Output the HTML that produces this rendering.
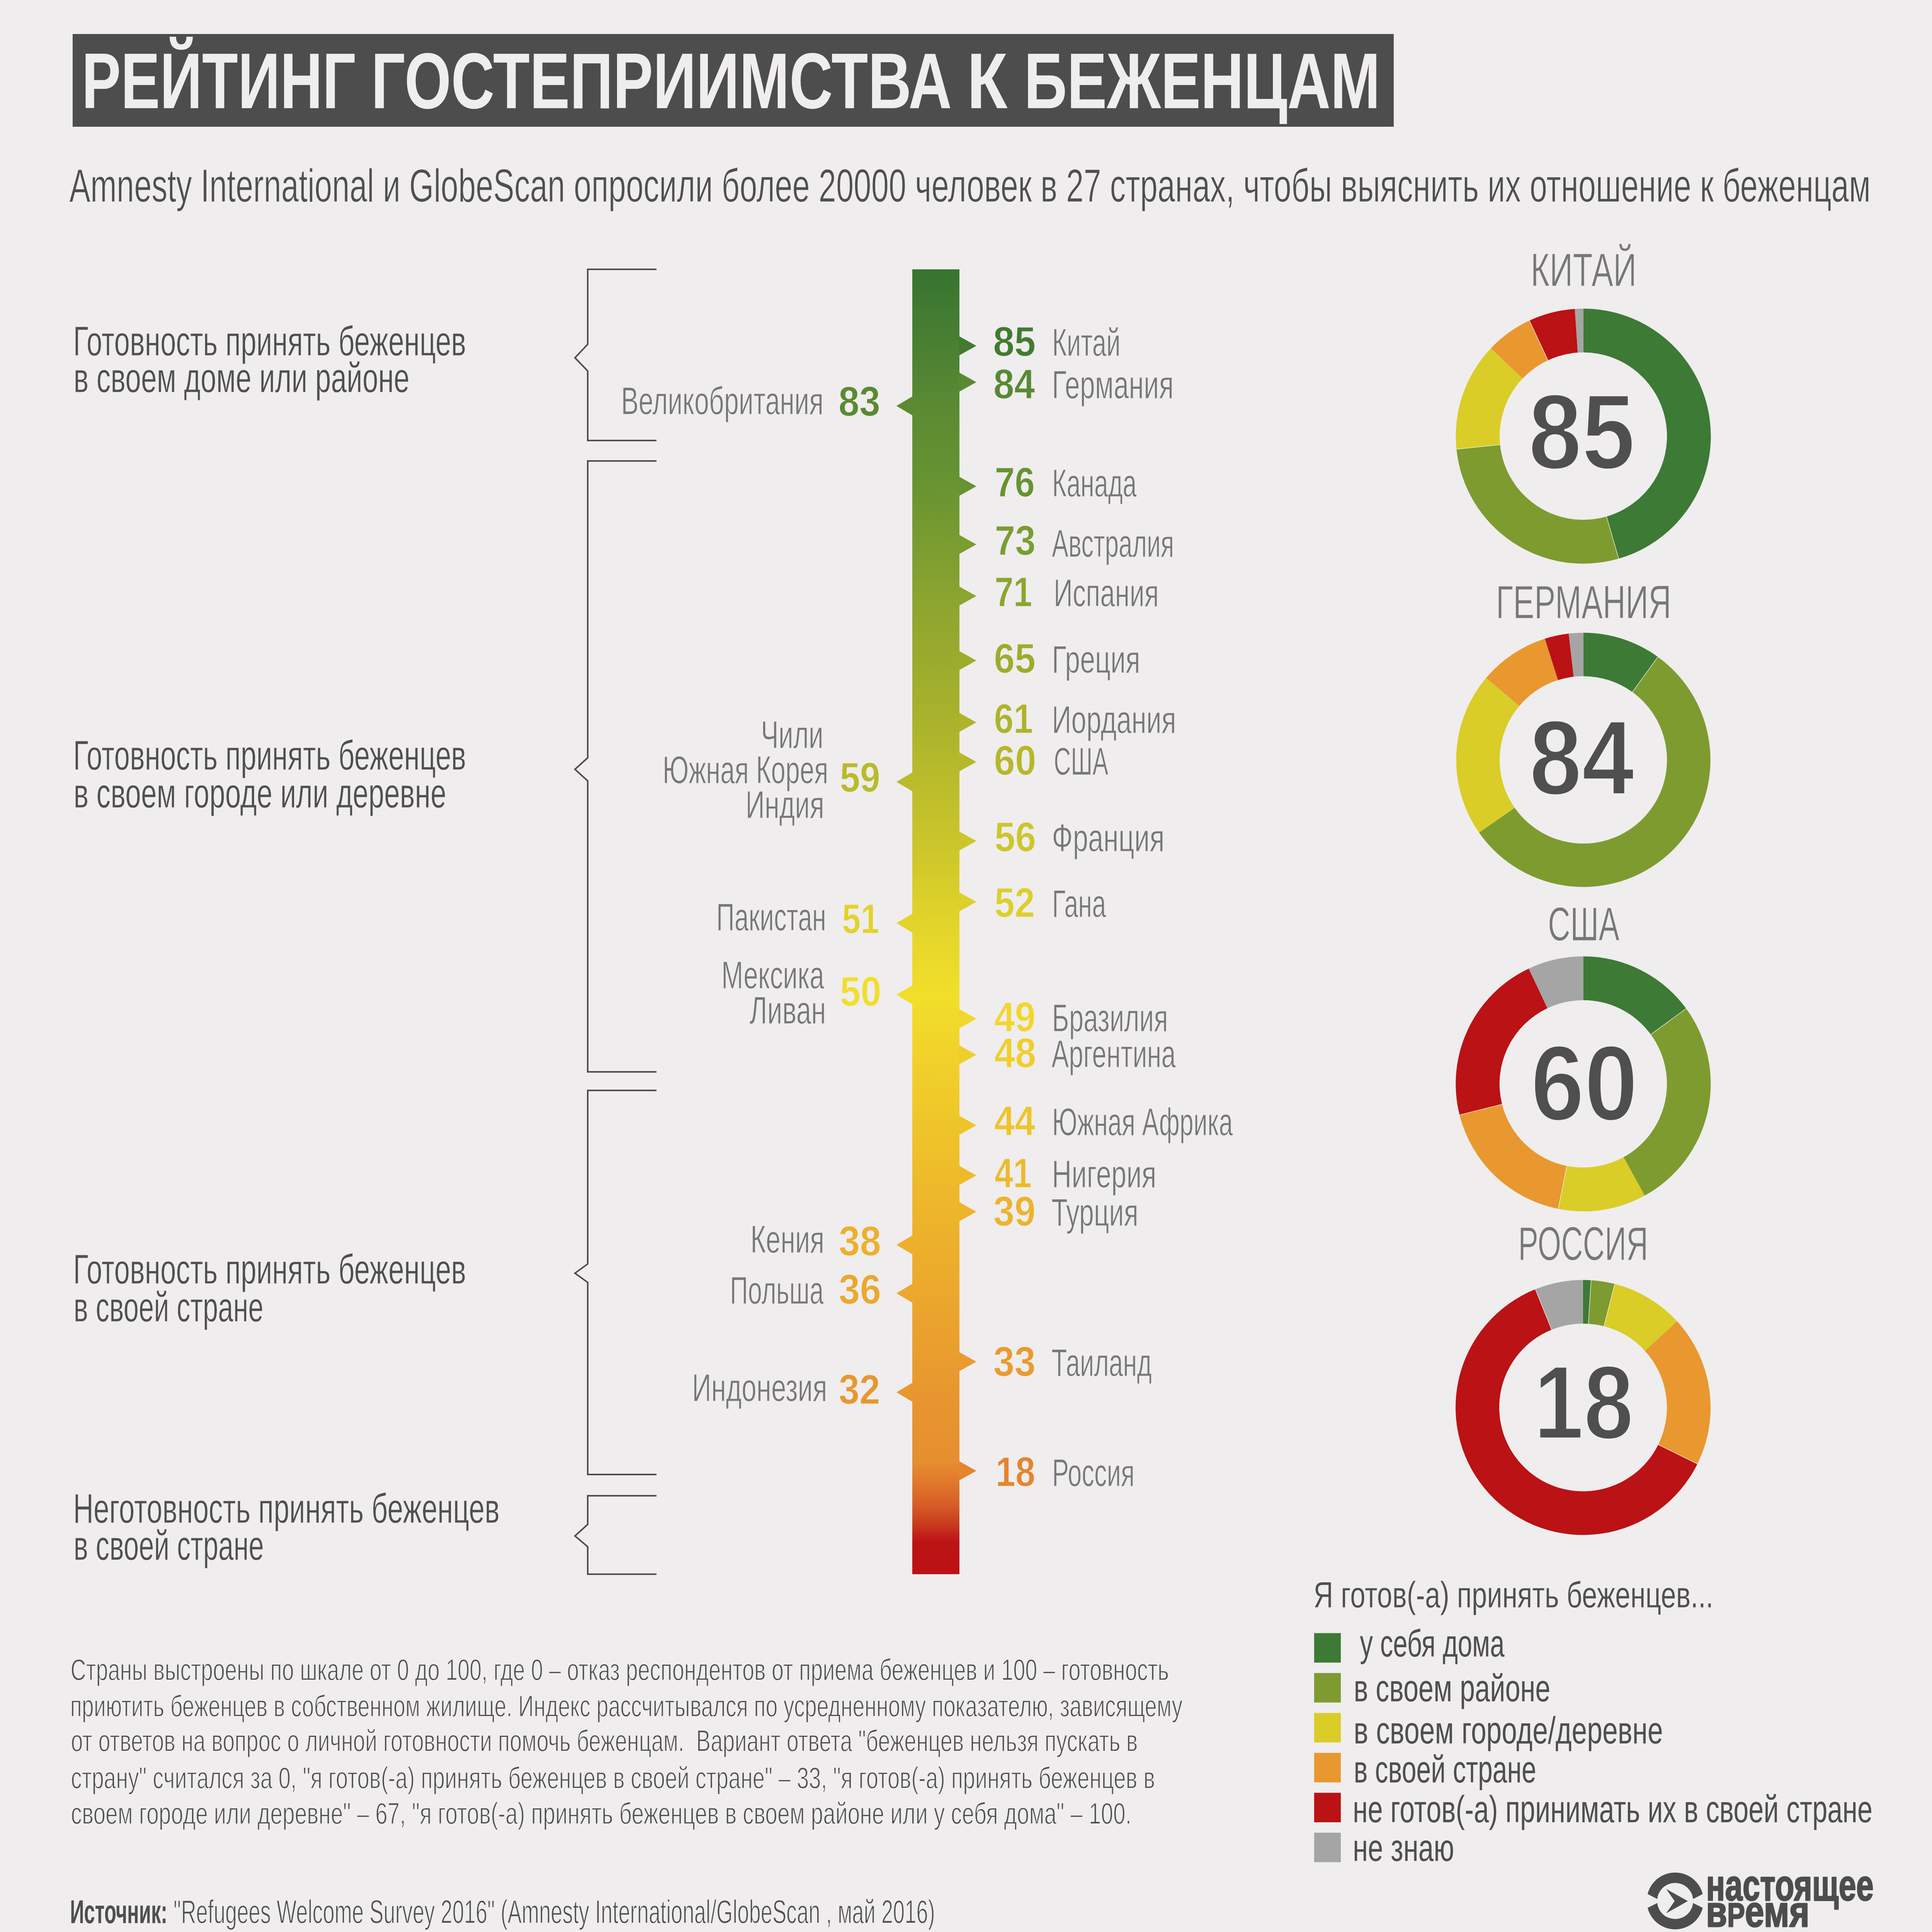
<!DOCTYPE html><html><head><meta charset="utf-8"><style>html,body{margin:0;padding:0;background:#EFEDEE;overflow:hidden;width:5018px;height:5063px;}svg{display:block}text{font-family:"Liberation Sans",sans-serif;white-space:pre}</style></head><body>
<svg width="5018" height="5063" viewBox="0 0 5018 5063">
<rect width="5018" height="5063" fill="#EFEDEE"/>
<rect x="188" y="88" width="3419" height="240" fill="#4D4D4D"/>
<path d="M1699 697 H1521 V891 L1488 926 L1521 960 V1140 H1699" fill="none" stroke="#4D4D4D" stroke-width="4" stroke-linejoin="miter"/>
<path d="M1699 1193 H1521 V1961 L1488 1991 L1521 2021 V2774 H1699" fill="none" stroke="#4D4D4D" stroke-width="4" stroke-linejoin="miter"/>
<path d="M1699 2822 H1521 V3271 L1488 3295 L1521 3319 V3816 H1699" fill="none" stroke="#4D4D4D" stroke-width="4" stroke-linejoin="miter"/>
<path d="M1699 3871 H1521 V3945 L1488 3975 L1521 4003 V4074 H1699" fill="none" stroke="#4D4D4D" stroke-width="4" stroke-linejoin="miter"/>
<defs><linearGradient id="bar" gradientUnits="userSpaceOnUse" x1="0" y1="697" x2="0" y2="4074">
<stop offset="0.0000" stop-color="#377431"/>
<stop offset="0.1045" stop-color="#5A8A33"/>
<stop offset="0.1664" stop-color="#689431"/>
<stop offset="0.2505" stop-color="#8AA42F"/>
<stop offset="0.3471" stop-color="#AAB32C"/>
<stop offset="0.4383" stop-color="#CAC52A"/>
<stop offset="0.4847" stop-color="#DCD02A"/>
<stop offset="0.5561" stop-color="#F2DF2A"/>
<stop offset="0.6020" stop-color="#F1D22A"/>
<stop offset="0.6559" stop-color="#EFC52A"/>
<stop offset="0.7222" stop-color="#EDB52B"/>
<stop offset="0.7847" stop-color="#EBA82D"/>
<stop offset="0.8605" stop-color="#E8972F"/>
<stop offset="0.9144" stop-color="#E68E30"/>
<stop offset="0.9337" stop-color="#DF722A"/>
<stop offset="0.9485" stop-color="#D55A26"/>
<stop offset="0.9633" stop-color="#C8361D"/>
<stop offset="0.9751" stop-color="#BC1315"/>
<stop offset="1.0000" stop-color="#BC1215"/>
</linearGradient></defs>
<rect x="2361" y="697" width="122" height="3377" fill="url(#bar)"/>
<path d="M2482 870.0 L2526.8 895.0 L2482 920.0 Z" fill="#437B31"/>
<path d="M2482 964.0 L2526.8 989.0 L2482 1014.0 Z" fill="#598A32"/>
<path d="M2482 1233.6 L2526.8 1258.6 L2482 1283.6 Z" fill="#679331"/>
<path d="M2482 1384.0 L2526.8 1409.0 L2482 1434.0 Z" fill="#7A9D30"/>
<path d="M2482 1517.6 L2526.8 1542.6 L2482 1567.6 Z" fill="#8CA52E"/>
<path d="M2482 1684.4 L2526.8 1709.4 L2482 1734.4 Z" fill="#9CAD2C"/>
<path d="M2482 1844.4 L2526.8 1869.4 L2482 1894.4 Z" fill="#AEB42B"/>
<path d="M2482 1946.8 L2526.8 1971.8 L2482 1996.8 Z" fill="#B5B82A"/>
<path d="M2482 2151.6 L2526.8 2176.6 L2482 2201.6 Z" fill="#CDC62A"/>
<path d="M2482 2309.0 L2526.8 2334.0 L2482 2359.0 Z" fill="#DDD02A"/>
<path d="M2482 2611.6 L2526.8 2636.6 L2482 2661.6 Z" fill="#F2D62B"/>
<path d="M2482 2704.7 L2526.8 2729.7 L2482 2754.7 Z" fill="#F0CE2A"/>
<path d="M2482 2887.3 L2526.8 2912.3 L2482 2937.3 Z" fill="#EFC42A"/>
<path d="M2482 3017.0 L2526.8 3042.0 L2482 3067.0 Z" fill="#EEBA2B"/>
<path d="M2482 3111.0 L2526.8 3136.0 L2482 3161.0 Z" fill="#EDB42B"/>
<path d="M2482 3499.0 L2526.8 3524.0 L2482 3549.0 Z" fill="#E99B2F"/>
<path d="M2482 3781.5 L2526.8 3806.5 L2482 3831.5 Z" fill="#E5852D"/>
<path d="M2362 1025.6 L2320 1050.6 L2362 1075.6 Z" fill="#5B8A32"/>
<path d="M2362 1998.4 L2320 2023.4 L2362 2048.4 Z" fill="#B9BB2A"/>
<path d="M2362 2364.0 L2320 2389.0 L2362 2414.0 Z" fill="#E3D32A"/>
<path d="M2362 2549.6 L2320 2574.6 L2362 2599.6 Z" fill="#F2DE2A"/>
<path d="M2362 3196.8 L2320 3221.8 L2362 3246.8 Z" fill="#EDAF2C"/>
<path d="M2362 3322.0 L2320 3347.0 L2362 3372.0 Z" fill="#EBA82D"/>
<path d="M2362 3578.2 L2320 3603.2 L2362 3628.2 Z" fill="#E8972F"/>
<path d="M4097.60 798.70 A330 330 0 0 1 4189.11 1445.76 L4157.67 1336.80 A216.6 216.6 0 0 0 4097.60 912.10 Z" fill="#3D7A35"/>
<path d="M4189.11 1445.76 A330 330 0 0 1 3769.35 1162.62 L3882.15 1150.96 A216.6 216.6 0 0 0 4157.67 1336.80 Z" fill="#7E9B30"/>
<path d="M3769.35 1162.62 A330 330 0 0 1 3858.23 901.54 L3940.48 979.60 A216.6 216.6 0 0 0 3882.15 1150.96 Z" fill="#DACD28"/>
<path d="M3858.23 901.54 A330 330 0 0 1 3958.14 829.62 L4006.06 932.39 A216.6 216.6 0 0 0 3940.48 979.60 Z" fill="#E8982F"/>
<path d="M3958.14 829.62 A330 330 0 0 1 4075.73 799.43 L4083.25 912.58 A216.6 216.6 0 0 0 4006.06 932.39 Z" fill="#BB1215"/>
<path d="M4075.73 799.43 A330 330 0 0 1 4097.60 798.70 L4097.60 912.10 A216.6 216.6 0 0 0 4083.25 912.58 Z" fill="#A5A5A5"/>
<path d="M4097.60 1637.50 A329 329 0 0 1 4290.52 1700.00 L4224.61 1791.04 A216.6 216.6 0 0 0 4097.60 1749.90 Z" fill="#3D7A35"/>
<path d="M4290.52 1700.00 A329 329 0 1 1 3827.77 2154.74 L3919.96 2090.43 A216.6 216.6 0 1 0 4224.61 1791.04 Z" fill="#7E9B30"/>
<path d="M3827.77 2154.74 A329 329 0 0 1 3845.94 1754.58 L3931.92 1826.98 A216.6 216.6 0 0 0 3919.96 2090.43 Z" fill="#DACD28"/>
<path d="M3845.94 1754.58 A329 329 0 0 1 3998.12 1652.90 L4032.11 1760.04 A216.6 216.6 0 0 0 3931.92 1826.98 Z" fill="#E8982F"/>
<path d="M3998.12 1652.90 A329 329 0 0 1 4059.79 1639.68 L4072.70 1751.34 A216.6 216.6 0 0 0 4032.11 1760.04 Z" fill="#BB1215"/>
<path d="M4059.79 1639.68 A329 329 0 0 1 4097.60 1637.50 L4097.60 1749.90 A216.6 216.6 0 0 0 4072.70 1751.34 Z" fill="#A5A5A5"/>
<path d="M4097.40 2475.00 A330 330 0 0 1 4363.70 2610.10 L4272.19 2677.07 A216.6 216.6 0 0 0 4097.40 2588.40 Z" fill="#3D7A35"/>
<path d="M4363.70 2610.10 A330 330 0 0 1 4256.38 3094.18 L4201.75 2994.81 A216.6 216.6 0 0 0 4272.19 2677.07 Z" fill="#7E9B30"/>
<path d="M4256.38 3094.18 A330 330 0 0 1 4032.74 3128.60 L4054.96 3017.40 A216.6 216.6 0 0 0 4201.75 2994.81 Z" fill="#DACD28"/>
<path d="M4032.74 3128.60 A330 330 0 0 1 3777.34 2885.39 L3887.33 2857.77 A216.6 216.6 0 0 0 4054.96 3017.40 Z" fill="#E8982F"/>
<path d="M3777.34 2885.39 A330 330 0 0 1 3956.37 2506.65 L4004.83 2609.18 A216.6 216.6 0 0 0 3887.33 2857.77 Z" fill="#BB1215"/>
<path d="M3956.37 2506.65 A330 330 0 0 1 4097.40 2475.00 L4097.40 2588.40 A216.6 216.6 0 0 0 4004.83 2609.18 Z" fill="#A5A5A5"/>
<path d="M4097.00 3312.50 A330 330 0 0 1 4117.72 3313.15 L4110.63 3425.93 A217 217 0 0 0 4097.00 3425.50 Z" fill="#3D7A35"/>
<path d="M4117.72 3313.15 A330 330 0 0 1 4179.07 3322.87 L4150.97 3432.32 A217 217 0 0 0 4110.63 3425.93 Z" fill="#7E9B30"/>
<path d="M4179.07 3322.87 A330 330 0 0 1 4340.30 3419.56 L4256.99 3495.90 A217 217 0 0 0 4150.97 3432.32 Z" fill="#DACD28"/>
<path d="M4340.30 3419.56 A330 330 0 0 1 4392.84 3788.71 L4291.54 3738.65 A217 217 0 0 0 4256.99 3495.90 Z" fill="#E8982F"/>
<path d="M4392.84 3788.71 A330 330 0 1 1 3973.38 3336.53 L4015.71 3441.30 A217 217 0 1 0 4291.54 3738.65 Z" fill="#BB1215"/>
<path d="M3973.38 3336.53 A330 330 0 0 1 4097.00 3312.50 L4097.00 3425.50 A217 217 0 0 0 4015.71 3441.30 Z" fill="#A5A5A5"/>
<line x1="4189.39" y1="1446.72" x2="4157.39" y2="1335.84" stroke="#F4F2F3" stroke-width="1.3"/>
<line x1="3768.35" y1="1162.72" x2="3883.14" y2="1150.86" stroke="#F4F2F3" stroke-width="1.3"/>
<line x1="3957.71" y1="828.71" x2="4006.48" y2="933.30" stroke="#F4F2F3" stroke-width="1.3"/>
<line x1="4291.10" y1="1699.19" x2="4224.02" y2="1791.86" stroke="#F4F2F3" stroke-width="1.3"/>
<line x1="4364.50" y1="2609.51" x2="4271.38" y2="2677.67" stroke="#F4F2F3" stroke-width="1.3"/>
<line x1="4032.54" y1="3129.58" x2="4055.15" y2="3016.42" stroke="#F4F2F3" stroke-width="1.3"/>
<line x1="3776.37" y1="2885.64" x2="3888.30" y2="2857.52" stroke="#F4F2F3" stroke-width="1.3"/>
<line x1="4117.78" y1="3312.15" x2="4110.56" y2="3426.93" stroke="#F4F2F3" stroke-width="1.3"/>
<line x1="4179.32" y1="3321.90" x2="4150.72" y2="3433.29" stroke="#F4F2F3" stroke-width="1.3"/>
<line x1="4393.74" y1="3789.16" x2="4290.64" y2="3738.20" stroke="#F4F2F3" stroke-width="1.3"/>
<line x1="3973.01" y1="3335.60" x2="4016.08" y2="3442.23" stroke="#F4F2F3" stroke-width="1.3"/>
<rect x="3401" y="4226.5" width="69" height="76.3" fill="#3D7A35"/>
<rect x="3401" y="4329.8" width="69" height="76.3" fill="#7E9B30"/>
<rect x="3401" y="4433.1" width="69" height="76.3" fill="#DACD28"/>
<rect x="3401" y="4536.4" width="69" height="76.3" fill="#E8982F"/>
<rect x="3401" y="4639.7" width="69" height="76.3" fill="#BB1215"/>
<rect x="3401" y="4743.0" width="69" height="76.3" fill="#A5A5A5"/>
<g fill="#4D4D4D"><path fill-rule="evenodd" d="M4261.8 4919.7 A73.5 73.5 0 1 1 4408.8 4919.7 A73.5 73.5 0 1 1 4261.8 4919.7 Z M4288.7 4919.7 A46.6 46.6 0 1 0 4381.900000000001 4919.7 A46.6 46.6 0 1 0 4288.7 4919.7 Z"/></g>
<path d="M4254 4896.6 L4292 4916.2 L4292 4923.5 L4254 4942.4 Z M4416.6 4896.6 L4378.6 4916.2 L4378.6 4923.5 L4416.6 4942.4 Z" fill="#EFEDEE"/>
<path d="M4312.1 4888.6 L4368.1 4920.1 L4312.1 4951.6 L4333.9 4920.1 Z" fill="#4D4D4D"/>
<text transform="translate(211.51 280.00) scale(0.7407 1)" font-size="204.95" font-weight="700" fill="#EFEDED">РЕЙТИНГ</text>
<text transform="translate(960.58 280.00) scale(0.7586 1)" font-size="204.95" font-weight="700" fill="#EFEDED">ГОСТЕПРИИМСТВА</text>
<text transform="translate(2502.47 280.00) scale(0.8379 1)" font-size="204.95" font-weight="700" fill="#EFEDED">К</text>
<text transform="translate(2650.34 280.00) scale(0.7540 1)" font-size="204.95" font-weight="700" fill="#EFEDED">БЕЖЕНЦАМ</text>
<text transform="translate(179.50 522.00) scale(0.6720 1)" font-size="121.37" font-weight="400" fill="#4F4F4F" stroke="#EFEDEE" stroke-width="1.2">Amnesty International и GlobeScan опросили более 20000 человек в 27 странах, чтобы выяснить их отношение к беженцам</text>
<text transform="translate(189.30 919.70) scale(0.6742 1)" font-size="108.14" font-weight="400" fill="#4F4F4F" stroke="#EFEDEE" stroke-width="0.8">Готовность принять беженцев</text>
<text transform="translate(190.43 1015.30) scale(0.6767 1)" font-size="108.14" font-weight="400" fill="#4F4F4F" stroke="#EFEDEE" stroke-width="0.8">в своем доме или районе</text>
<text transform="translate(189.30 1992.00) scale(0.6742 1)" font-size="108.14" font-weight="400" fill="#4F4F4F" stroke="#EFEDEE" stroke-width="0.8">Готовность принять беженцев</text>
<text transform="translate(190.43 2089.50) scale(0.6765 1)" font-size="108.14" font-weight="400" fill="#4F4F4F" stroke="#EFEDEE" stroke-width="0.8">в своем городе или деревне</text>
<text transform="translate(189.30 3322.00) scale(0.6742 1)" font-size="108.14" font-weight="400" fill="#4F4F4F" stroke="#EFEDEE" stroke-width="0.8">Готовность принять беженцев</text>
<text transform="translate(190.59 3419.50) scale(0.6530 1)" font-size="108.14" font-weight="400" fill="#4F4F4F" stroke="#EFEDEE" stroke-width="0.8">в своей стране</text>
<text transform="translate(189.29 3941.00) scale(0.6763 1)" font-size="108.14" font-weight="400" fill="#4F4F4F" stroke="#EFEDEE" stroke-width="0.8">Неготовность принять беженцев</text>
<text transform="translate(190.58 4036.80) scale(0.6544 1)" font-size="108.14" font-weight="400" fill="#4F4F4F" stroke="#EFEDEE" stroke-width="0.8">в своей стране</text>
<text transform="translate(2570.20 921.40) scale(0.9217 1)" font-size="107.56" font-weight="700" fill="#437B31" stroke="#EFEDEE" stroke-width="1.2">85</text>
<text transform="translate(2722.68 921.40) scale(0.6489 1)" font-size="101.02" font-weight="400" fill="#777777" stroke="#EFEDEE" stroke-width="1.2">Китай</text>
<text transform="translate(2570.98 1031.20) scale(0.8977 1)" font-size="107.56" font-weight="700" fill="#598A32" stroke="#EFEDEE" stroke-width="1.2">84</text>
<text transform="translate(2722.31 1031.20) scale(0.6960 1)" font-size="101.02" font-weight="400" fill="#777777" stroke="#EFEDEE" stroke-width="1.2">Германия</text>
<text transform="translate(2574.49 1284.50) scale(0.8644 1)" font-size="107.56" font-weight="700" fill="#679331" stroke="#EFEDEE" stroke-width="1.2">76</text>
<text transform="translate(2722.75 1284.50) scale(0.6396 1)" font-size="101.02" font-weight="400" fill="#777777" stroke="#EFEDEE" stroke-width="1.2">Канада</text>
<text transform="translate(2574.44 1436.00) scale(0.8820 1)" font-size="107.56" font-weight="700" fill="#7A9D30" stroke="#EFEDEE" stroke-width="1.2">73</text>
<text transform="translate(2722.30 1441.00) scale(0.6334 1)" font-size="101.02" font-weight="400" fill="#777777" stroke="#EFEDEE" stroke-width="1.2">Австралия</text>
<text transform="translate(2574.27 1568.50) scale(0.8125 1)" font-size="107.56" font-weight="700" fill="#8CA52E" stroke="#EFEDEE" stroke-width="1.2">71</text>
<text transform="translate(2726.64 1568.50) scale(0.6791 1)" font-size="101.02" font-weight="400" fill="#777777" stroke="#EFEDEE" stroke-width="1.2">Испания</text>
<text transform="translate(2572.27 1741.20) scale(0.9005 1)" font-size="107.56" font-weight="700" fill="#9CAD2C" stroke="#EFEDEE" stroke-width="1.2">65</text>
<text transform="translate(2722.34 1741.20) scale(0.6921 1)" font-size="101.02" font-weight="400" fill="#777777" stroke="#EFEDEE" stroke-width="1.2">Греция</text>
<text transform="translate(2572.46 1896.60) scale(0.8460 1)" font-size="107.56" font-weight="700" fill="#AEB42B" stroke="#EFEDEE" stroke-width="1.2">61</text>
<text transform="translate(2722.34 1896.60) scale(0.6917 1)" font-size="101.02" font-weight="400" fill="#777777" stroke="#EFEDEE" stroke-width="1.2">Иордания</text>
<text transform="translate(2572.23 2005.00) scale(0.9141 1)" font-size="107.56" font-weight="700" fill="#B5B82A" stroke="#EFEDEE" stroke-width="1.2">60</text>
<text transform="translate(2727.13 2005.00) scale(0.6057 1)" font-size="101.02" font-weight="400" fill="#777777" stroke="#EFEDEE" stroke-width="1.2">США</text>
<text transform="translate(2573.79 2203.30) scale(0.8995 1)" font-size="107.56" font-weight="700" fill="#CDC62A" stroke="#EFEDEE" stroke-width="1.2">56</text>
<text transform="translate(2722.37 2203.30) scale(0.7040 1)" font-size="101.02" font-weight="400" fill="#777777" stroke="#EFEDEE" stroke-width="1.2">Франция</text>
<text transform="translate(2573.84 2372.50) scale(0.8701 1)" font-size="107.56" font-weight="700" fill="#DDD02A" stroke="#EFEDEE" stroke-width="1.2">52</text>
<text transform="translate(2722.73 2372.50) scale(0.6426 1)" font-size="101.02" font-weight="400" fill="#777777" stroke="#EFEDEE" stroke-width="1.2">Гана</text>
<text transform="translate(2573.20 2669.20) scale(0.8926 1)" font-size="107.56" font-weight="700" fill="#F2D62B" stroke="#EFEDEE" stroke-width="1.2">49</text>
<text transform="translate(2722.54 2669.20) scale(0.6666 1)" font-size="101.02" font-weight="400" fill="#777777" stroke="#EFEDEE" stroke-width="1.2">Бразилия</text>
<text transform="translate(2573.20 2762.30) scale(0.9046 1)" font-size="107.56" font-weight="700" fill="#F0CE2A" stroke="#EFEDEE" stroke-width="1.2">48</text>
<text transform="translate(2721.50 2762.30) scale(0.6627 1)" font-size="101.02" font-weight="400" fill="#777777" stroke="#EFEDEE" stroke-width="1.2">Аргентина</text>
<text transform="translate(2573.20 2938.00) scale(0.8851 1)" font-size="107.56" font-weight="700" fill="#EFC42A" stroke="#EFEDEE" stroke-width="1.2">44</text>
<text transform="translate(2722.75 2938.00) scale(0.6398 1)" font-size="101.02" font-weight="400" fill="#777777" stroke="#EFEDEE" stroke-width="1.2">Южная Африка</text>
<text transform="translate(2574.00 3073.30) scale(0.8037 1)" font-size="107.56" font-weight="700" fill="#EEBA2B" stroke="#EFEDEE" stroke-width="1.2">41</text>
<text transform="translate(2722.29 3073.30) scale(0.6982 1)" font-size="101.02" font-weight="400" fill="#777777" stroke="#EFEDEE" stroke-width="1.2">Нигерия</text>
<text transform="translate(2570.87 3172.30) scale(0.9126 1)" font-size="107.56" font-weight="700" fill="#EDB42B" stroke="#EFEDEE" stroke-width="1.2">39</text>
<text transform="translate(2721.23 3172.30) scale(0.6797 1)" font-size="101.02" font-weight="400" fill="#777777" stroke="#EFEDEE" stroke-width="1.2">Турция</text>
<text transform="translate(2570.87 3560.80) scale(0.9126 1)" font-size="107.56" font-weight="700" fill="#E99B2F" stroke="#EFEDEE" stroke-width="1.2">33</text>
<text transform="translate(2721.27 3560.80) scale(0.6495 1)" font-size="101.02" font-weight="400" fill="#777777" stroke="#EFEDEE" stroke-width="1.2">Таиланд</text>
<text transform="translate(2576.86 3845.70) scale(0.8536 1)" font-size="107.56" font-weight="700" fill="#E5852D" stroke="#EFEDEE" stroke-width="1.2">18</text>
<text transform="translate(2722.71 3845.70) scale(0.6445 1)" font-size="101.02" font-weight="400" fill="#777777" stroke="#EFEDEE" stroke-width="1.2">Россия</text>
<text transform="translate(2169.97 1076.00) scale(0.9023 1)" font-size="107.56" font-weight="700" fill="#5B8A32" stroke="#EFEDEE" stroke-width="1.2">83</text>
<text transform="translate(1607.27 1072.40) scale(0.6752 1)" font-size="101.02" font-weight="400" fill="#777777" stroke="#EFEDEE" stroke-width="1.2">Великобритания</text>
<text transform="translate(2173.53 2049.00) scale(0.8718 1)" font-size="107.56" font-weight="700" fill="#B9BB2A" stroke="#EFEDEE" stroke-width="1.2">59</text>
<text transform="translate(1969.37 1936.00) scale(0.6759 1)" font-size="101.02" font-weight="400" fill="#777777" stroke="#EFEDEE" stroke-width="1.2">Чили</text>
<text transform="translate(1714.77 2026.80) scale(0.6632 1)" font-size="101.02" font-weight="400" fill="#777777" stroke="#EFEDEE" stroke-width="1.2">Южная Корея</text>
<text transform="translate(1929.62 2117.40) scale(0.6812 1)" font-size="101.02" font-weight="400" fill="#777777" stroke="#EFEDEE" stroke-width="1.2">Индия</text>
<text transform="translate(2179.35 2415.00) scale(0.8041 1)" font-size="107.56" font-weight="700" fill="#E3D32A" stroke="#EFEDEE" stroke-width="1.2">51</text>
<text transform="translate(1853.87 2407.50) scale(0.6500 1)" font-size="101.02" font-weight="400" fill="#777777" stroke="#EFEDEE" stroke-width="1.2">Пакистан</text>
<text transform="translate(2173.70 2603.00) scale(0.8935 1)" font-size="107.56" font-weight="700" fill="#F2DE2A" stroke="#EFEDEE" stroke-width="1.2">50</text>
<text transform="translate(1867.10 2557.90) scale(0.6711 1)" font-size="101.02" font-weight="400" fill="#777777" stroke="#EFEDEE" stroke-width="1.2">Мексика</text>
<text transform="translate(1940.00 2649.00) scale(0.6884 1)" font-size="101.02" font-weight="400" fill="#777777" stroke="#EFEDEE" stroke-width="1.2">Ливан</text>
<text transform="translate(2170.76 3249.00) scale(0.9134 1)" font-size="107.56" font-weight="700" fill="#EDAF2C" stroke="#EFEDEE" stroke-width="1.2">38</text>
<text transform="translate(1942.25 3241.90) scale(0.6773 1)" font-size="101.02" font-weight="400" fill="#777777" stroke="#EFEDEE" stroke-width="1.2">Кения</text>
<text transform="translate(2170.76 3374.30) scale(0.9134 1)" font-size="107.56" font-weight="700" fill="#EBA82D" stroke="#EFEDEE" stroke-width="1.2">36</text>
<text transform="translate(1888.90 3374.30) scale(0.6465 1)" font-size="101.02" font-weight="400" fill="#777777" stroke="#EFEDEE" stroke-width="1.2">Польша</text>
<text transform="translate(2170.80 3632.50) scale(0.8952 1)" font-size="107.56" font-weight="700" fill="#E8972F" stroke="#EFEDEE" stroke-width="1.2">32</text>
<text transform="translate(1791.00 3626.00) scale(0.6848 1)" font-size="101.02" font-weight="400" fill="#777777" stroke="#EFEDEE" stroke-width="1.2">Индонезия</text>
<text transform="translate(3961.35 739.70) scale(0.6955 1)" font-size="120.64" font-weight="400" fill="#777777" stroke="#EFEDEE" stroke-width="1.2">КИТАЙ</text>
<text transform="translate(3955.44 1212.60) scale(0.9012 1)" font-size="275.59" font-weight="700" fill="#4F4F4F" stroke="#EFEDEE" stroke-width="5">85</text>
<text transform="translate(3871.59 1600.00) scale(0.6845 1)" font-size="119.91" font-weight="400" fill="#777777" stroke="#EFEDEE" stroke-width="1.2">ГЕРМАНИЯ</text>
<text transform="translate(3957.87 2055.60) scale(0.8907 1)" font-size="274.13" font-weight="700" fill="#4F4F4F" stroke="#EFEDEE" stroke-width="5">84</text>
<text transform="translate(4006.04 2433.70) scale(0.6590 1)" font-size="121.80" font-weight="400" fill="#777777" stroke="#EFEDEE" stroke-width="1.2">США</text>
<text transform="translate(3961.51 2898.60) scale(0.9027 1)" font-size="276.17" font-weight="700" fill="#4F4F4F" stroke="#EFEDEE" stroke-width="5">60</text>
<text transform="translate(3929.10 3260.70) scale(0.6333 1)" font-size="123.26" font-weight="400" fill="#777777" stroke="#EFEDEE" stroke-width="1.2">РОССИЯ</text>
<text transform="translate(3969.50 3722.80) scale(0.8588 1)" font-size="270.06" font-weight="700" fill="#4F4F4F" stroke="#EFEDEE" stroke-width="5">18</text>
<text transform="translate(3399.28 4159.80) scale(0.7519 1)" font-size="94.19" font-weight="400" fill="#4F4F4F" stroke="#EFEDEE" stroke-width="0.4">Я готов(-а) принять беженцев...</text>
<text transform="translate(3519.50 4286.80) scale(0.6787 1)" font-size="98.84" font-weight="400" fill="#4F4F4F">у себя дома</text>
<text transform="translate(3503.41 4403.00) scale(0.7111 1)" font-size="98.84" font-weight="400" fill="#4F4F4F">в своем районе</text>
<text transform="translate(3503.33 4511.60) scale(0.7229 1)" font-size="98.84" font-weight="400" fill="#4F4F4F">в своем городе/деревне</text>
<text transform="translate(3503.56 4613.30) scale(0.6870 1)" font-size="98.84" font-weight="400" fill="#4F4F4F">в своей стране</text>
<text transform="translate(3501.01 4716.10) scale(0.7100 1)" font-size="98.84" font-weight="400" fill="#4F4F4F">не готов(-а) принимать их в своей стране</text>
<text transform="translate(3500.97 4815.80) scale(0.7170 1)" font-size="98.84" font-weight="400" fill="#4F4F4F">не знаю</text>
<text transform="translate(182.58 4347.90) scale(0.7109 1)" font-size="78.49" font-weight="400" fill="#4F4F4F" stroke="#EFEDEE" stroke-width="1.8">Страны выстроены по шкале от 0 до 100, где 0 – отказ респондентов от приема беженцев и 100 – готовность</text>
<text transform="translate(181.73 4441.90) scale(0.7084 1)" font-size="78.49" font-weight="400" fill="#4F4F4F" stroke="#EFEDEE" stroke-width="1.8">приютить беженцев в собственном жилище. Индекс рассчитывался по усредненному показателю, зависящему</text>
<text transform="translate(183.45 4532.00) scale(0.7126 1)" font-size="78.49" font-weight="400" fill="#4F4F4F" stroke="#EFEDEE" stroke-width="1.8">от ответов на вопрос о личной готовности помочь беженцам.  Вариант ответа &quot;беженцев нельзя пускать в</text>
<text transform="translate(183.44 4627.50) scale(0.7190 1)" font-size="78.49" font-weight="400" fill="#4F4F4F" stroke="#EFEDEE" stroke-width="1.8">страну&quot; считался за 0, &quot;я готов(-а) принять беженцев в своей стране&quot; – 33, &quot;я готов(-а) принять беженцев в</text>
<text transform="translate(183.42 4720.00) scale(0.7252 1)" font-size="78.49" font-weight="400" fill="#4F4F4F" stroke="#EFEDEE" stroke-width="1.8">своем городе или деревне&quot; – 67, &quot;я готов(-а) принять беженцев в своем районе или у себя дома&quot; – 100.</text>
<text transform="translate(181.13 4977.30) scale(0.5965 1)" font-size="85.03" font-weight="700" fill="#4F4F4F">Источник:</text>
<text transform="translate(449.10 4977.30) scale(0.6388 1)" font-size="85.03" font-weight="400" fill="#4F4F4F" stroke="#EFEDEE" stroke-width="1.8">&quot;Refugees Welcome Survey 2016&quot; (Amnesty International/GlobeScan , май 2016)</text>
<text transform="translate(4415.31 4918.00) scale(0.7137 1)" font-size="114.02" font-weight="700" fill="#4D4D4D" stroke="#4D4D4D" stroke-width="3" stroke-linejoin="round">настоящее</text>
<text transform="translate(4414.80 4986.30) scale(0.7878 1)" font-size="113.83" font-weight="700" fill="#4D4D4D" stroke="#4D4D4D" stroke-width="3" stroke-linejoin="round">в<tspan font-size="87.31">Р</tspan>емя</text>
</svg></body></html>
